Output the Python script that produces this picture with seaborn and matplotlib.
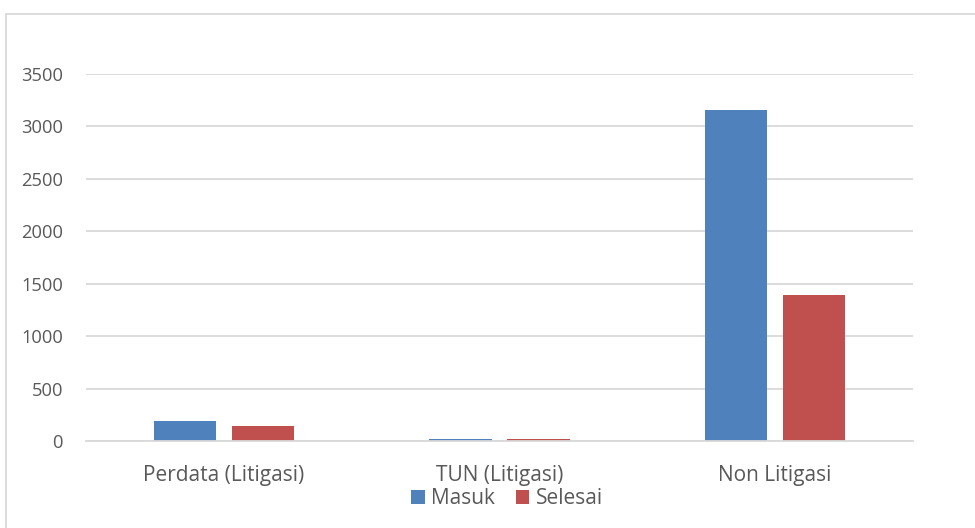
import matplotlib
matplotlib.use("Agg")
import matplotlib.pyplot as plt
from matplotlib.patches import Rectangle, Patch
import seaborn as sns
import pandas as pd

categories = ["Perdata (Litigasi)", "TUN (Litigasi)", "Non Litigasi"]
masuk = [192, 22, 3157]
selesai = [143, 16, 1390]
series_names = ["Masuk", "Selesai"]
colors = ["#4F81BD", "#C0504D"]
yticks = [0, 500, 1000, 1500, 2000, 2500, 3000, 3500]

df = pd.DataFrame({
    "kategori": categories * 2,
    "jumlah": masuk + selesai,
    "status": [series_names[0]] * 3 + [series_names[1]] * 3,
})

sns.set_theme(style="white")
plt.rcParams["font.family"] = ["Open Sans", "DejaVu Sans"]
text_color = "#595959"
grid_color = "#d9d9d9"

fig = plt.figure(figsize=(9.75, 5.28), dpi=100)
ax = fig.add_axes([86 / 975, 1 - 441 / 528, (913 - 86) / 975, (441 - 74) / 528])

sns.barplot(data=df, x="kategori", y="jumlah", hue="status", order=categories,
            hue_order=series_names, palette=colors, width=0.566, gap=0.205,
            saturation=1, linewidth=0, ax=ax, legend=False)

ax.set_ylim(0, 3500)
ax.set_yticks(yticks)
ax.set_xlim(-0.5, 2.5)
ax.yaxis.grid(True, color=grid_color, linewidth=1.3)
ax.set_axisbelow(True)
for side in ["top", "right", "left"]:
    ax.spines[side].set_visible(False)
ax.spines["bottom"].set_color(grid_color)
ax.spines["bottom"].set_linewidth(1.3)
ax.set_xlabel("")
ax.set_ylabel("")
ax.tick_params(axis="y", length=0, pad=16.5, labelsize=13.2, labelcolor=text_color)
ax.tick_params(axis="x", length=0, pad=17.5, labelsize=15, labelcolor=text_color)

# chart frame
fig.patches.append(Rectangle((6 / 975, -0.1), 1.2, 1 - 14 / 528 + 0.1,
                             transform=fig.transFigure, fill=False,
                             edgecolor=grid_color, linewidth=1.3))

handles = [Patch(facecolor=c, edgecolor="none") for c in colors]
fig.legend(handles, series_names, loc="center", bbox_to_anchor=(507 / 975, 1 - 499 / 528),
           ncol=2, frameon=False, fontsize=15, labelcolor=text_color,
           handlelength=0.65, handleheight=0.65, handletextpad=0.3, columnspacing=1.0)

fig.savefig("out.png", dpi=100)
